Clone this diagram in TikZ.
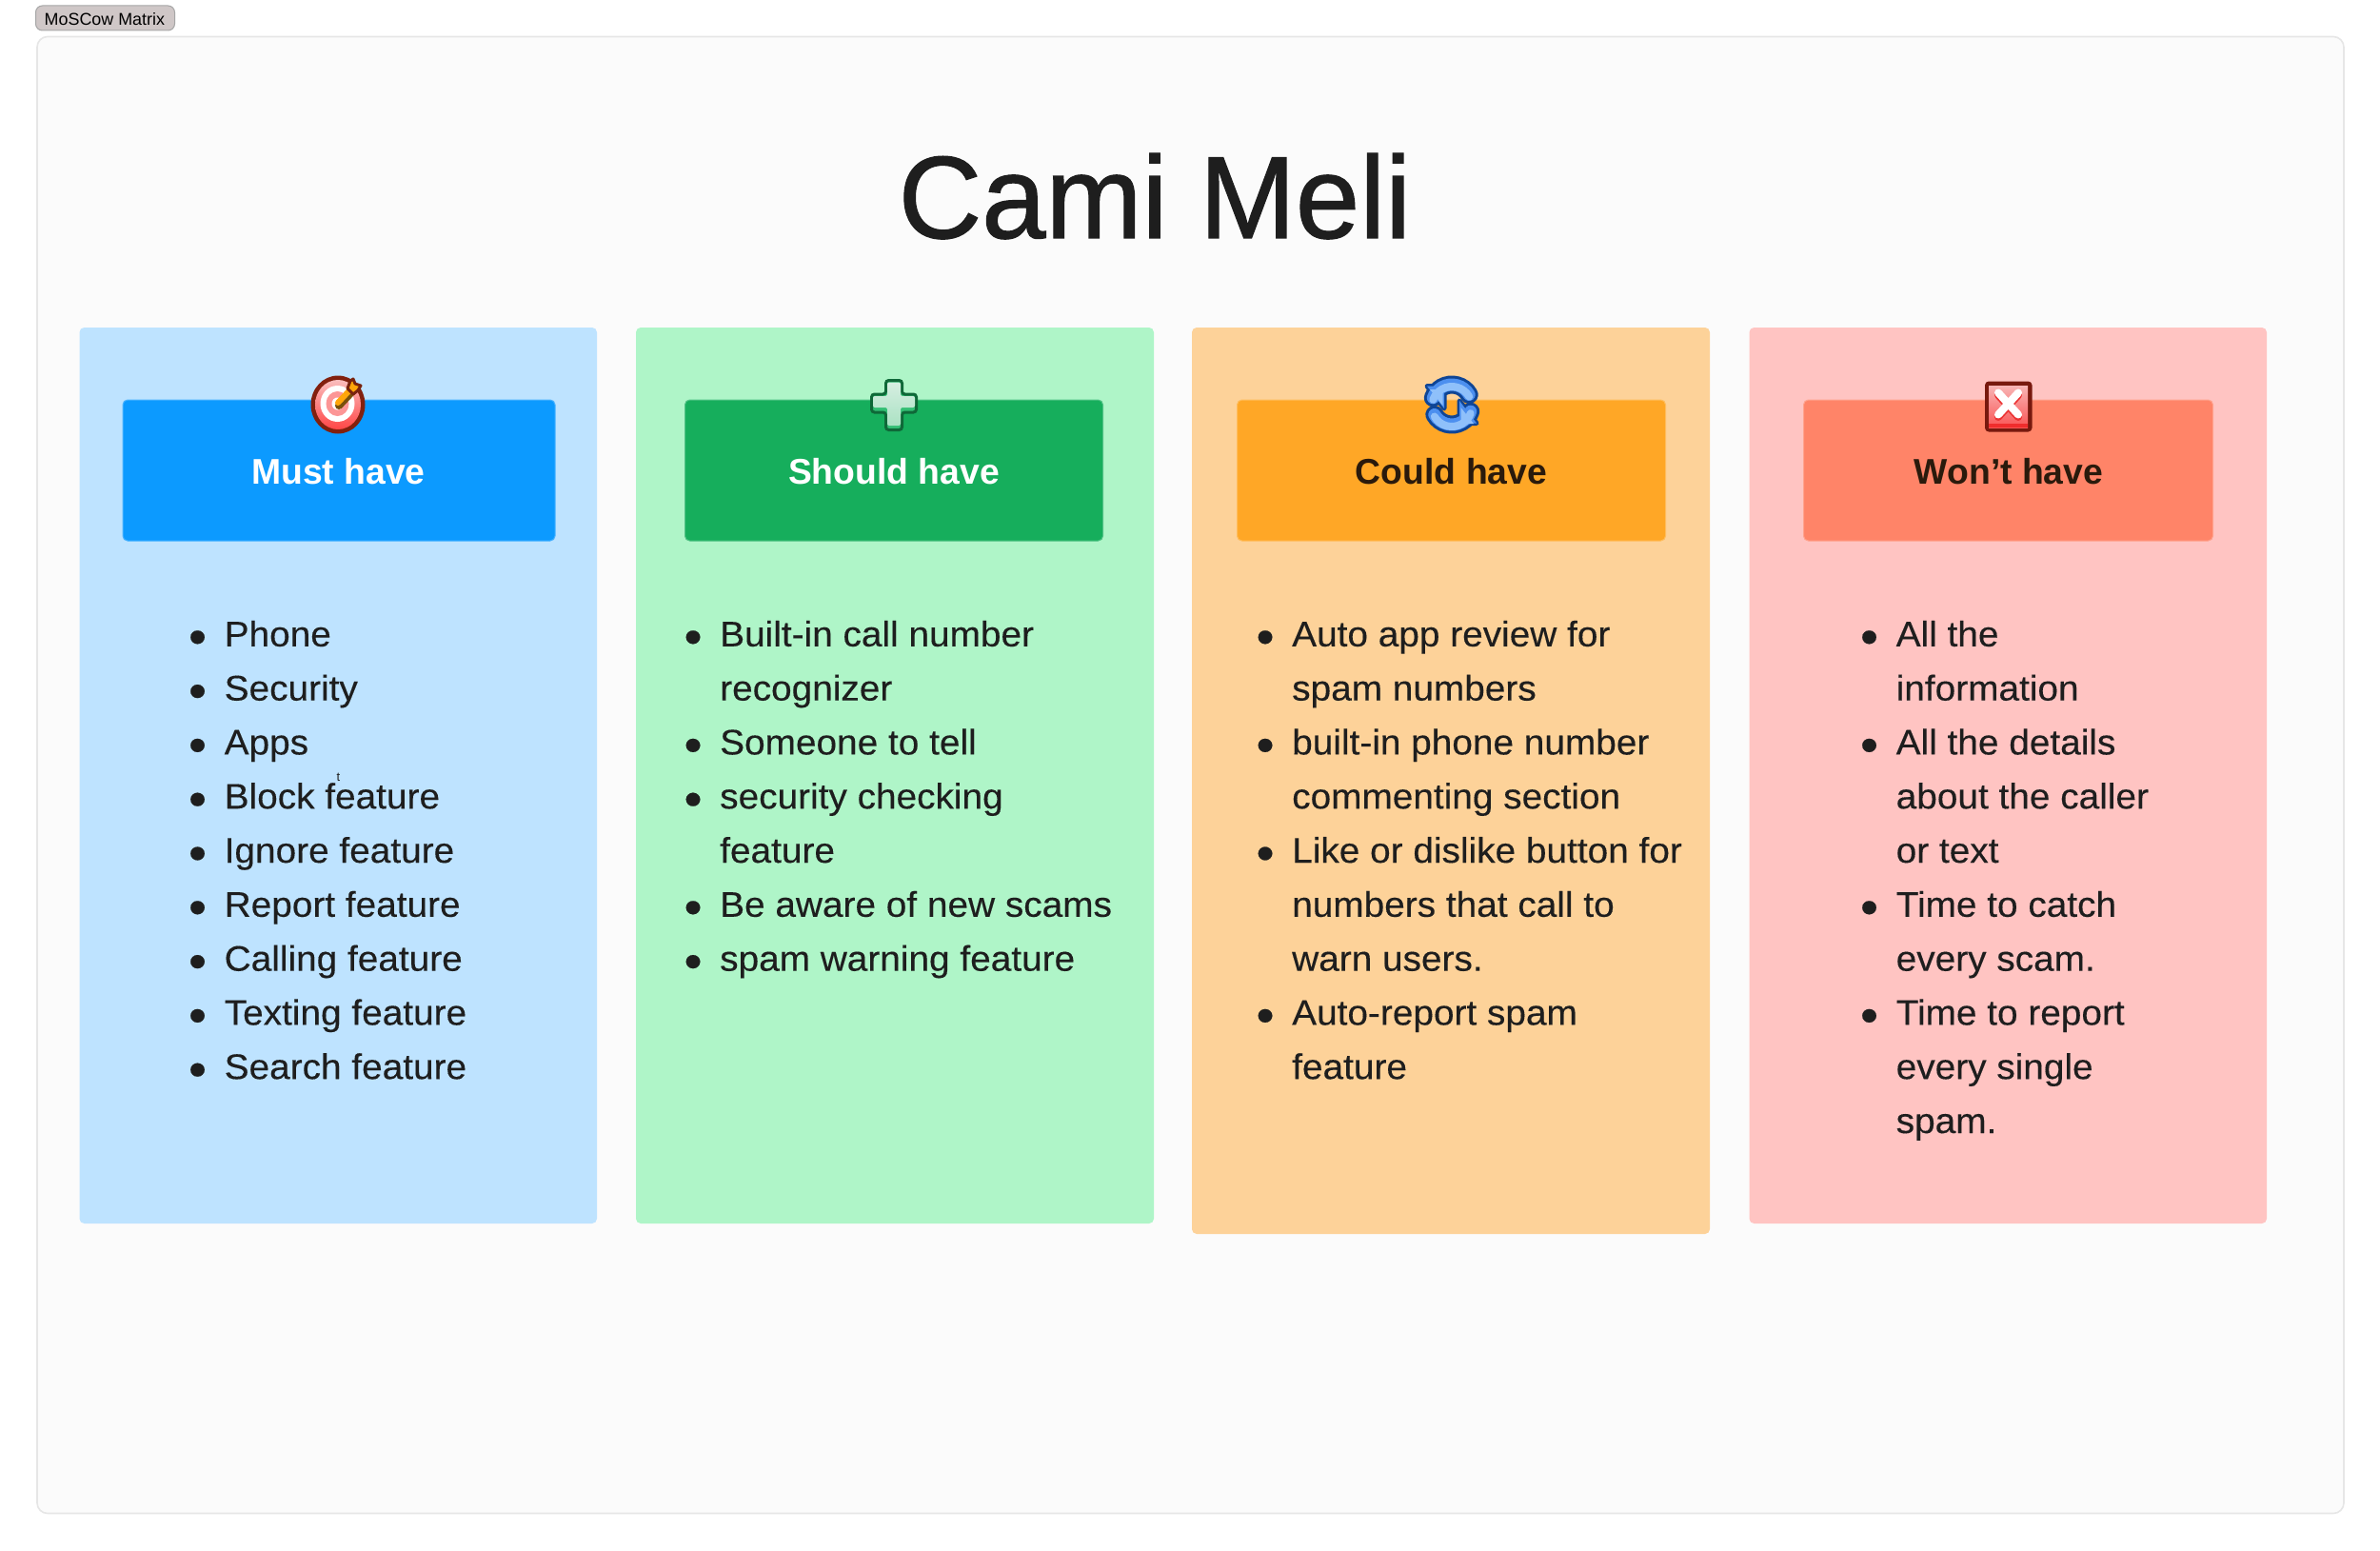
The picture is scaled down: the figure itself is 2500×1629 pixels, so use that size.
\documentclass[tikz,border=0pt]{standalone}
\usepackage{fontspec}
\setmainfont{Liberation Sans}
\newfontfamily\bodyfont[FakeStretch=1.04,FakeBold=0.25]{Liberation Sans}
\newfontfamily\titlefont[FakeStretch=0.985,FakeBold=1.0]{Liberation Sans}
\newfontfamily\headfont[FakeStretch=0.995]{Liberation Sans Bold}
\usetikzlibrary{shadings}
\definecolor{ink}{HTML}{1E1E1E}
\definecolor{darkink}{HTML}{2A1A0C}
\definecolor{framefill}{HTML}{FBFBFB}
\definecolor{frameline}{HTML}{E6E6E6}
\definecolor{pblue}{HTML}{BEE3FF}\definecolor{hblue}{HTML}{0C9AFF}
\definecolor{pgreen}{HTML}{AFF5C8}\definecolor{hgreen}{HTML}{16AE5C}
\definecolor{porange}{HTML}{FDD299}\definecolor{horange}{HTML}{FFA726}
\definecolor{ppink}{HTML}{FFC4C2}\definecolor{hpink}{HTML}{FF8468}
\definecolor{cyc}{HTML}{0F4595}\definecolor{cycm}{HTML}{4C8FEF}\definecolor{cycl}{HTML}{8FC0FA}
\tikzset{
  x=1pt,y=-1pt,
  box/.style={rectangle,inner sep=0pt,outer sep=0pt,rounded corners=5pt},
  panel/.style={box,fill=#1},
  headbox/.style={box,fill=#1,draw=#1!75!white,line width=1pt},
  headtext/.style={inner sep=0pt,anchor=base,font=\headfont\fontsize{37.5}{40}\selectfont},
  listbox/.style={inner sep=0pt,anchor=north west,text=ink,align=left,font=\bodyfont\fontsize{37.3}{56.8}\selectfont},
}
\newcommand{\mkbox}[7]{\node[#6=#7,minimum width={(#4-#2)*1pt},minimum height={(#5-#3)*1pt}] (#1) at ({(#2+#4)/2},{(#3+#5)/2}) {};}
\newcommand{\li}[1]{\hbox to 0pt{\hss\raisebox{-7.7pt}{\fontsize{52}{52}\selectfont •}\hskip 18.7pt}#1}
\begin{document}
\begin{tikzpicture}
\useasboundingbox (0,0) rectangle (2500,1629);
\fill[white] (0,0) rectangle (2500,1629);
% frame and tag
\node[box,draw=frameline,line width=1.6pt,fill=framefill,rounded corners=11pt,minimum width=2423pt,minimum height=1551pt] (frame) at (1250.5,814) {};
\node[box,draw=black!35,line width=1pt,rounded corners=7pt,minimum width=146pt,minimum height=26pt,fill={rgb,255:red,207;green,199;blue,199}] (tag) at (110.5,19) {};
\node[inner sep=0pt,anchor=base west,text=black,font=\fontsize{17.9}{20}\selectfont] (tagtext) at (46.5,27) {MoSCow Matrix};
% title
\node[inner sep=0pt,anchor=base,text=ink,font=\titlefont\fontsize{123}{130}\selectfont] (title) at (1213,250) {Cami Meli};
% panels
\mkbox{p1}{83.5}{344}{627}{1285}{panel}{pblue}
\mkbox{p2}{668}{344}{1212}{1285}{panel}{pgreen}
\mkbox{p3}{1252}{344}{1796}{1296}{panel}{porange}
\mkbox{p4}{1837.5}{344}{2381}{1285}{panel}{ppink}
% headers
\mkbox{h1}{129}{420}{583}{568}{headbox}{hblue}
\mkbox{h2}{719.5}{420}{1158.5}{568}{headbox}{hgreen}
\mkbox{h3}{1299.5}{420}{1749.5}{568}{headbox}{horange}
\mkbox{h4}{1894.5}{420}{2324.5}{568}{headbox}{hpink}
\node[headtext,text=white] (t1) at (355.5,508) {Must have};
\node[headtext,text=white] (t2) at (939,508) {Should have};
\node[headtext,text=darkink] (t3) at (1524.5,508) {Could have};
\node[headtext,text=darkink] (t4) at (2110,508) {Won’t have};
% target icon
\begin{scope}
\fill[fill={rgb,255:red,130;green,32;blue,14}] (355,425) ellipse (28.5pt and 30.5pt);
\shade[top color={rgb,255:red,250;green,190;blue,190},bottom color={rgb,255:red,255;green,70;blue,70}] (355,425) ellipse (24pt and 26pt);
\fill[white] (354.5,424) ellipse (18pt and 19pt);
\fill[fill={rgb,255:red,252;green,150;blue,150}] (354.5,424) ellipse (12pt and 13pt);
\fill[white] (354.5,424) ellipse (6pt and 6.5pt);
\draw[line width=8pt,line cap=round,draw={rgb,255:red,120;green,80;blue,10}] (356,426) -- (372,409);
\draw[line width=6pt,line cap=round,draw={rgb,255:red,255;green,166;blue,10}] (355,423) -- (371,406);
\fill[draw={rgb,255:red,120;green,35;blue,14},line width=3pt,line join=round,fill={rgb,255:red,255;green,166;blue,10}] (368,400) -- (371,398) -- (373,403) -- (379,405) -- (376,410) -- (371,414) -- (365,408) -- cycle;
\end{scope}
% plus icon
\begin{scope}
\def\plusp{(930.5,399.5) -- (947.5,399.5) -- (947.5,414) -- (962.5,414) -- (962.5,433) -- (947.5,433) -- (947.5,451.5) -- (930.5,451.5) -- (930.5,433) -- (915.5,433) -- (915.5,414) -- (930.5,414) -- cycle}
\draw[line width=3pt,rounded corners=3pt,draw={rgb,255:red,15;green,104;blue,56},fill={rgb,255:red,50;green,190;blue,115}] \plusp;
\shade[top color={rgb,255:red,214;green,238;blue,225},bottom color={rgb,255:red,170;green,226;blue,195},rounded corners=2pt]
 (932,401.5) -- (946,401.5) -- (946,416) -- (961,416) -- (961,428) -- (946,428) -- (946,447) -- (932,447) -- (932,428) -- (917,428) -- (917,416) -- (932,416) -- cycle;
\end{scope}
% cycle icon
\foreach \r/\s in {0/-2,180/2}{
\begin{scope}[rotate around={\r:(1525,425)}]
\draw[line width=19pt,draw=cyc,line cap=round] (1543.2,414.5) arc[start angle=-30,end angle=-160,radius=21];
\fill[draw=cyc,line width=5pt,line join=round,fill=cycm] (1499,405.5) -- (1517,405.5) -- (1517,429) -- cycle;
\end{scope}}
\foreach \r/\s in {0/-2,180/2}{
\begin{scope}[rotate around={\r:(1525,425)}]
\draw[line width=13pt,draw=cycm,line cap=round] (1543.2,414.5) arc[start angle=-30,end angle=-160,radius=21];
\fill[cycm] (1499,405.5) -- (1517,405.5) -- (1517,429) -- cycle;
\begin{scope}[yshift=\s*1pt]
\draw[line width=8pt,draw=cycl,line cap=round] (1543.2,414.5) arc[start angle=-30,end angle=-160,radius=21];
\fill[cycl] (1502,407) -- (1515.5,407) -- (1515.5,424) -- cycle;
\end{scope}
\end{scope}}
% cross icon
\begin{scope}
\fill[rounded corners=4pt,fill={rgb,255:red,120;green,25;blue,14}] (2085,400.5) rectangle (2134.5,453.5);
\shade[top color={rgb,255:red,248;green,180;blue,180},bottom color={rgb,255:red,250;green,85;blue,85}] (2089,405) rectangle (2130,449);
\fill[fill={rgb,255:red,240;green,45;blue,45}] (2089,445) rectangle (2130,449);
\draw[line width=8pt,line cap=round,draw={rgb,255:red,235;green,50;blue,50}] (2099,415) -- (2120,438) (2120,415) -- (2099,438);
\draw[line width=8pt,line cap=round,draw=white] (2099,412.5) -- (2120,435.5) (2120,412.5) -- (2099,435.5);
\end{scope}
% lists
\node[listbox] (l1) at (235.5,651.6) {\li{Phone}\\\li{Security}\\\li{Apps}\\\li{Block feature}\\\li{Ignore feature}\\\li{Report feature}\\\li{Calling feature}\\\li{Texting feature}\\\li{Search feature}};
\node[listbox] (l2) at (756,651.6) {\li{Built-in call number}\\recognizer\\\li{Someone to tell}\\\li{security checking}\\feature\\\li{Be aware of new scams}\\\li{spam warning feature}};
\node[listbox] (l3) at (1357,651.6) {\li{Auto app review for}\\spam numbers\\\li{built-in phone number}\\commenting section\\\li{Like or dislike button for}\\numbers that call to\\warn users.\\\li{Auto-report spam}\\feature};
\node[listbox] (l4) at (1991.5,651.6) {\li{All the}\\information\\\li{All the details}\\about the caller\\or text\\\li{Time to catch}\\every scam.\\\li{Time to report}\\every single\\spam.};
\node[inner sep=0pt,anchor=base,text=ink,font=\fontsize{13}{14}\selectfont] (tiny) at (355.5,820) {t};
\end{tikzpicture}
\end{document}
